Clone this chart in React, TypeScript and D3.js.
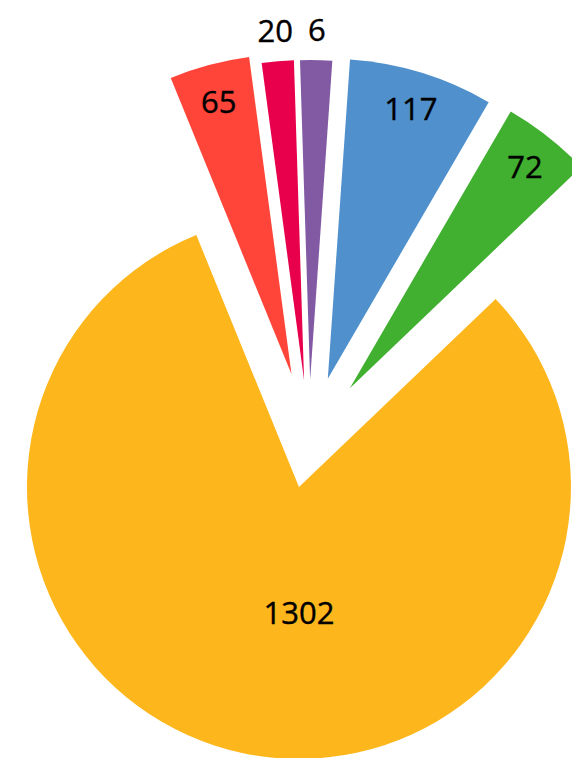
import * as d3 from "d3";

// slice values, in drawing order (clockwise from the big slice)
const values = [1302, 65, 20, 6, 117, 72];
const colors = ["#FDB71D", "#FF4539", "#E8004C", "#825AA4", "#4F90CD", "#41AF30"];
// how far each slice is pulled out from the pie centre (px)
const pull = [48, 68, 60, 60, 64, 66];

const width = 572,
  height = 758,
  cx = 309,
  cy = 440,
  radius = 272,
  pulledRadius = 320,
  startDeg = 46.3,
  minAngleDeg = 5.8,
  fontSize = 31;

export default function App() {
  // tiny slices get a minimum angle so they stay visible
  const total = d3.sum(values);
  const minShare = minAngleDeg / 360;
  const isSmall = values.map((v) => v / total < minShare);
  const bigTotal = d3.sum(values.filter((v, i) => !isSmall[i]));
  const freeShare = 1 - minShare * isSmall.filter(Boolean).length;
  const weights = values.map((v, i) =>
    isSmall[i] ? minShare : (v / bigTotal) * freeShare
  );

  const start = (startDeg * Math.PI) / 180;
  const pie = d3
    .pie<number>()
    .sort(null)
    .value((d, i) => weights[i])
    .startAngle(start)
    .endAngle(start + 2 * Math.PI);
  const slices = pie(values);
  const maxValue = d3.max(values);

  return (
    <svg
      width={width}
      height={height}
      style={{ position: "absolute", left: 0, top: 0 }}
    >
      <g transform={`translate(${cx} ${cy})`}>
        {slices.map((s, i) => {
          const mid = (s.startAngle + s.endAngle) / 2;
          const dx = Math.sin(mid) * pull[i];
          const dy = -Math.cos(mid) * pull[i];
          const r = values[i] === maxValue ? radius : pulledRadius;
          const arc = d3.arc<any>().innerRadius(0).outerRadius(r);
          const span = s.endAngle - s.startAngle;

          // label placement
          let la = mid,
            lr = r - 37;
          if (span > Math.PI) {
            la = Math.PI;
            lr = radius * 0.46;
          } else if (span < 0.17) {
            lr = r + 31;
          }
          const lx = Math.sin(la) * lr;
          const ly = -Math.cos(la) * lr;

          return (
            <g key={i} transform={`translate(${dx} ${dy})`}>
              <path d={arc(s) ?? ""} fill={colors[i]} />
              <text
                x={lx}
                y={ly}
                textAnchor="middle"
                dominantBaseline="central"
                fontFamily="'Open Sans', sans-serif"
                fontSize={fontSize}
                fill="#000"
                stroke="#000"
                strokeWidth={0.4}
              >
                {values[i]}
              </text>
            </g>
          );
        })}
      </g>
    </svg>
  );
}
